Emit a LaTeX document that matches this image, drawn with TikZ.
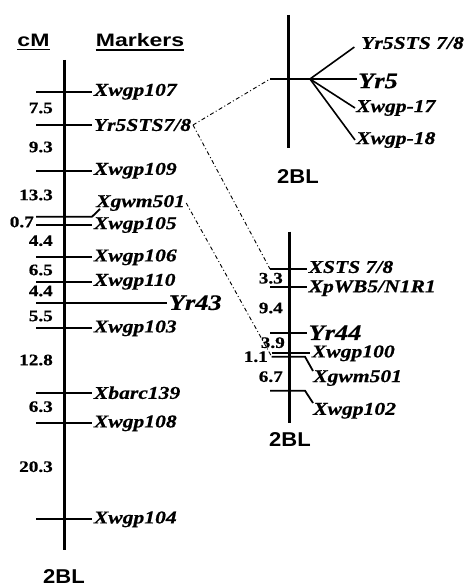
\documentclass[tikz,border=0pt]{standalone}
\usepackage{fontspec}
\setmainfont{Liberation Serif}[FakeStretch=1.2, FakeBold=0.6]
\newfontfamily\headfont{Liberation Sans}[FakeStretch=1.28]
\newfontfamily\chrfont{Liberation Sans}[FakeStretch=1.1]
\usetikzlibrary{positioning}
\tikzset{
  chrom/.style={line width=3pt},
  tickln/.style={line width=1.8pt},
  fan/.style={line width=1.6pt},
  link/.style={line width=0.9pt, dash pattern=on 4pt off 2.5pt on 1pt off 2.5pt},
  marker/.style={anchor=west, inner sep=1pt, font=\fontsize{18}{18}\selectfont\bfseries\itshape},
  gene/.style={marker, font=\fontsize{22}{22}\selectfont\bfseries\itshape},
  dist/.style={anchor=east, inner sep=0pt, font=\fontsize{16}{16}\selectfont\bfseries},
  head/.style={inner sep=0pt, font=\fontsize{18}{18}\selectfont\headfont\bfseries},
  chr/.style={inner sep=0pt, font=\fontsize{20}{20}\selectfont\chrfont\bfseries},
}

\begin{document}
\begin{tikzpicture}[x=1pt, y=-1pt]
  \useasboundingbox (0,0) rectangle (467,588);
  % headings
  \node[head] (cm) at (33.5,40.5) {cM};
  \node[head] (mk) at (140,40.5) {Markers};
  \draw[line width=1.5pt] ([yshift=-2.5pt]cm.south west) -- ([yshift=-2.5pt]cm.south east);
  \draw[line width=1.5pt] ([yshift=-2.5pt]mk.south west) -- ([yshift=-2.5pt]mk.south east);
  % left map
  \draw[chrom] (64,60) -- (64,550);
  \draw[tickln] (36,91.7) -- (92,91.7) node[marker] (x107) {Xwgp107};
  \draw[tickln] (36,125) -- (92,125) node[marker] (yr58) {Yr5STS7/8};
  \draw[tickln] (36,170.7) -- (92,170.7) node[marker] (x109) {Xwgp109};
  \node[marker] (gwmL) at (95,203) {Xgwm501};
  \coordinate (gwmLk) at (100,209);
  \draw[tickln] (36,216.7) -- (92,216.7) -- (gwmLk);
  \draw[tickln] (36,225) -- (92,225) node[marker] (x105) {Xwgp105};
  \draw[tickln] (36,257.3) -- (92,257.3) node[marker] (x106) {Xwgp106};
  \draw[tickln] (36,281.7) -- (92,281.7) node[marker] (x110) {Xwgp110};
  \draw[tickln] (36,302.7) -- (167,302.7) node[gene] (yr43) {Yr43};
  \draw[tickln] (36,328.3) -- (92,328.3) node[marker] (x103) {Xwgp103};
  \draw[tickln] (36,392.7) -- (92,392.7) node[marker] (b139) {Xbarc139};
  \draw[tickln] (36,423.3) -- (92,423.3) node[marker] (x108) {Xwgp108};
  \draw[tickln] (36,519.3) -- (92,519.3) node[marker] (x104) {Xwgp104};
  \node[dist] (d1) at (53,108) {7.5};
  \node[dist] (d2) at (53,147) {9.3};
  \node[dist] (d3) at (53,195) {13.3};
  \node[dist] (d4) at (34,222) {0.7};
  \node[dist] (d5) at (53,240.7) {4.4};
  \node[dist] (d6) at (53,270) {6.5};
  \node[dist] (d7) at (53,291) {4.4};
  \node[dist] (d8) at (53,316) {5.5};
  \node[dist] (d9) at (53,360) {12.8};
  \node[dist] (d10) at (53,406.7) {6.3};
  \node[dist] (d11) at (53,466.7) {20.3};
  \node[chr] (chrA) at (64,577) {2BL};
  % top right map
  \draw[chrom] (288.3,15) -- (288.3,148);
  \coordinate (hub) at (310,79);
  \draw[tickln] (270,79) coordinate (yr5in) -- (hub);
  \node[marker] (t1) at (360,43) {Yr5STS 7/8};
  \node[gene] (yr5) at (357,81) {Yr5};
  \node[marker] (t3) at (355,108) {Xwgp-17};
  \node[marker] (t4) at (355,140) {Xwgp-18};
  \draw[fan, shorten >=7pt] (hub) -- (t1.west);
  \draw[fan] (hub) -- (yr5.west |- hub);
  \draw[fan] (hub) -- (t3.west);
  \draw[fan] (hub) -- (t4.west);
  \node[chr] (chrB) at (298,177) {2BL};
  % bottom right map
  \draw[chrom] (289.3,231.7) -- (289.3,423.3);
  \draw[tickln] (270,269) coordinate (xstsin) -- (306.7,269) node[marker, yshift=2pt] (xsts) {XSTS 7/8};
  \draw[tickln] (270,286.7) -- (306.7,286.7) node[marker, yshift=-1.5pt] (xpwb) {XpWB5/N1R1};
  \draw[tickln] (270,332.7) -- (306.7,332.7) node[gene] (yr44) {Yr44};
  \draw[tickln] (271.7,353.3) -- (310,353.3) node[marker] (x100) {Xwgp100};
  \node[marker] (gwmR) at (312,378) {Xgwm501};
  \coordinate (gwmRk) at (313,371);
  \draw[tickln] (271.7,356.7) coordinate (gwmRin) -- (305,356.7) -- (gwmRk);
  \node[marker] (x102) at (312,410.7) {Xwgp102};
  \coordinate (x102k) at (313,403);
  \draw[tickln] (270,390.7) -- (305,390.7) -- (x102k);
  \node[dist] (e1) at (283,278.3) {3.3};
  \node[dist] (e2) at (283,308) {9.4};
  \node[dist] (e3) at (285,342.7) {3.9};
  \node[dist] (e4) at (268,356.7) {1.1};
  \node[dist] (e5) at (283,376.7) {6.7};
  \node[chr] (chrC) at (290,440) {2BL};
  % links between maps
  \draw[link] (yr58.east) -- (yr5in);
  \draw[link] (yr58.east) -- (xstsin);
  \draw[link] (gwmL.east) -- (gwmRin);
\end{tikzpicture}
\end{document}
